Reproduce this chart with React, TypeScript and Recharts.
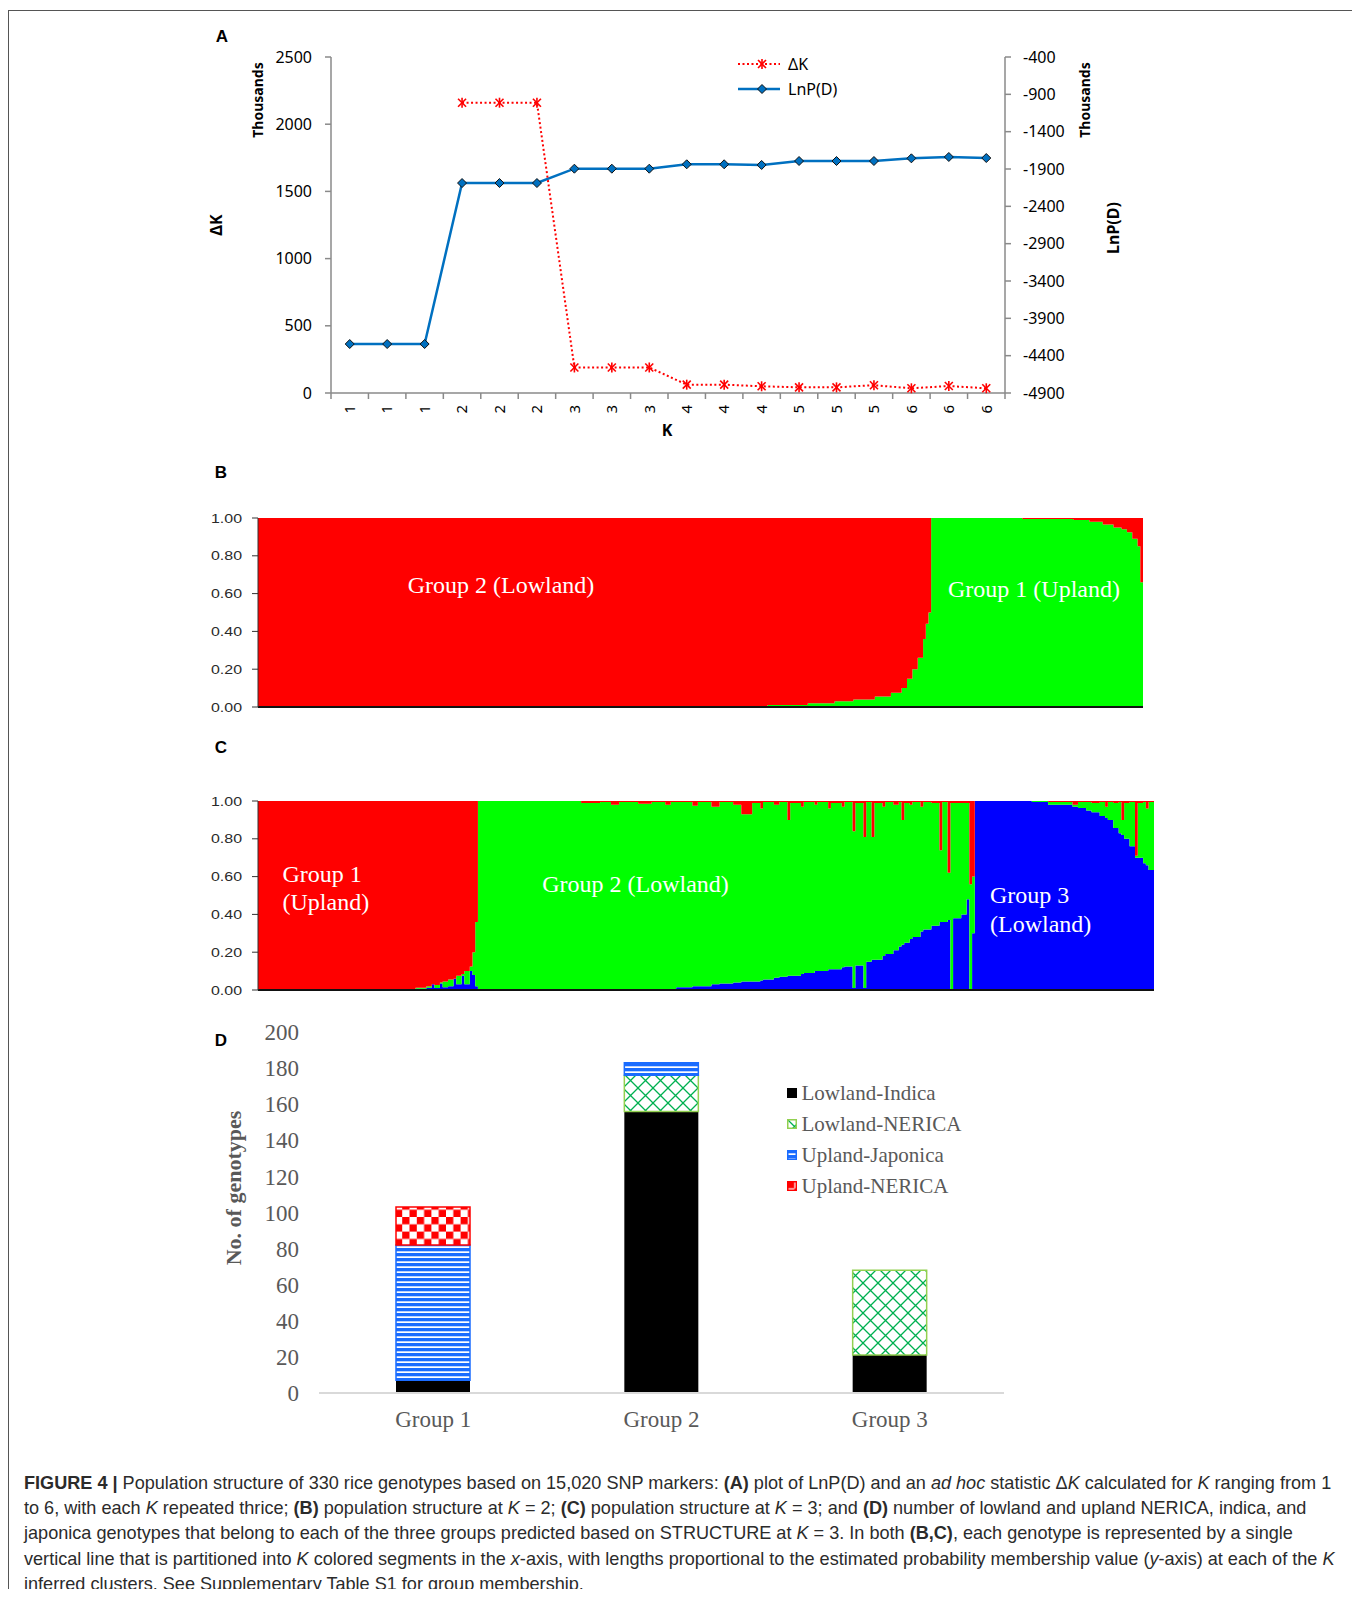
import React from 'react';
import { LineChart, Line, XAxis, YAxis, AreaChart, Area, BarChart, Bar } from 'recharts';

// (A) Evanno plot, K = 1..6, each K run three times
const kLabels = ['1', '1', '1', '2', '2', '2', '3', '3', '3', '4', '4', '4', '5', '5', '5', '6', '6', '6'];
const deltaK: (number | null)[] = [null, null, null, 2160, 2160, 2160, 190, 190, 190, 62, 62, 50, 42, 42, 58, 35, 52, 35];
const lnPD = [-4244, -4244, -4244, -2088, -2088, -2088, -1896, -1896, -1896, -1837, -1837, -1846, -1793, -1793, -1793, -1757, -1739, -1753];
const deltaKTicks = [0, 500, 1000, 1500, 2000, 2500];
const lnPDTicks = [-4900, -4400, -3900, -3400, -2900, -2400, -1900, -1400, -900, -400];

// (B) K = 2, 330 genotypes in plot order. Each breakpoint's value holds until the next one.
const bIdx = [0, 170, 190, 205, 215, 222, 230, 236, 240, 242, 244, 246, 248, 249, 250, 251, 285, 304, 310, 315, 319, 322, 324, 326, 328, 329, 330];
const bGreen = [0, 0.005, 0.01, 0.02, 0.03, 0.04, 0.055, 0.075, 0.1, 0.15, 0.2, 0.26, 0.36, 0.44, 0.5, 1, 0.995, 0.99, 0.98, 0.965, 0.95, 0.94, 0.925, 0.89, 0.85, 0.66, 0.66];

// (C) K = 3, same idea: blue and red shares, green is the rest
const cIdx = [
  0, 50, 58, 62, 64, 65, 67, 68, 70, 72, 73, 75, 76, 78, 79, 80,
  81, 119, 126, 130, 133, 140, 145, 150, 152, 154, 160, 162, 167, 170, 175, 178, 182, 185, 186, 190,
  192, 195, 196, 200, 201, 205, 206, 210, 211, 215, 216, 219, 220, 223, 224, 226, 227, 230, 231, 234,
  236, 237, 238, 240, 241, 244, 245, 248, 251, 252, 254, 255, 256, 259, 261, 262, 263,
  264, 285, 291, 300, 302, 305, 307, 310, 312, 313, 315, 317, 318, 319, 321, 323, 324, 326, 327, 328, 330,
];
const cBlue = [
  0, 0.003, 0.006, 0.012, 0.03, 0.01, 0.035, 0.015, 0.02, 0.06, 0.03, 0.075, 0.03, 0.1, 0.08, 0.02,
  0, 0, 0, 0, 0, 0, 0, 0, 0, 0.015, 0.02, 0.02, 0.03, 0.035, 0.04, 0.045, 0.045, 0.05, 0.055, 0.065,
  0.07, 0.075, 0.075, 0.085, 0.09, 0.1, 0.1, 0.11, 0.11, 0.12, 0.125, 0.01, 0.13, 0.01, 0.15, 0.16, 0.16, 0.18, 0.19, 0.21,
  0.23, 0.24, 0.25, 0.27, 0.28, 0.31, 0.32, 0.34, 0.36, 0.36, 0.37, 0, 0.38, 0.4, 0.48, 0, 0.3,
  1, 0.995, 0.98, 0.97, 0.963, 0.95, 0.94, 0.92, 0.91, 0.9, 0.857, 0.83, 0.82, 0.8, 0.76, 0.7, 0.7, 0.67, 0.66, 0.635, 0.635,
];
const cRed = [
  1, 0.995, 0.988, 0.98, 0.97, 0.974, 0.96, 0.955, 0.945, 0.94, 0.925, 0.915, 0.9, 0.875, 0.8, 0.64,
  0, 0.01, 0.005, 0.02, 0.005, 0.015, 0.005, 0.02, 0.005, 0.005, 0.025, 0.005, 0.03, 0.005, 0.02, 0.07, 0.01, 0.04, 0.005, 0.02,
  0.005, 0.1, 0.01, 0.03, 0.005, 0.02, 0.005, 0.04, 0.01, 0.03, 0.005, 0.16, 0.01, 0.19, 0.005, 0.19, 0.01, 0.03, 0.005, 0.02,
  0.005, 0.1, 0.01, 0.02, 0.005, 0.03, 0.005, 0.01, 0.26, 0.005, 0.38, 0.01, 0.01, 0.01, 0.01, 0.44, 0.4,
  0, 0, 0.005, 0.02, 0.005, 0.005, 0.01, 0.005, 0.03, 0.005, 0.01, 0.005, 0.1, 0.01, 0.005, 0.29, 0.01, 0.005, 0.04, 0.005, 0.005,
];
const qTicks = [0, 0.2, 0.4, 0.6, 0.8, 1];

// (D) number of genotypes per STRUCTURE group
const groups = ['Group 1', 'Group 2', 'Group 3'];
const lowlandIndica = [7, 156, 21];
const lowlandNerica = [0, 20, 47];
const uplandJaponica = [75, 7, 0];
const uplandNerica = [21, 0, 0];
const countTicks = [0, 20, 40, 60, 80, 100, 120, 140, 160, 180, 200];

const dataA = kLabels.map((k, i) => ({ pos: i + 0.5, k, dk: deltaK[i], lnp: lnPD[i] }));
const kBounds = [...kLabels.map((_, i) => i), kLabels.length];
const kCentres = kLabels.map((_, i) => i + 0.5);
const dataB = bIdx.map((x, i) => ({ x, green: bGreen[i], red: +(1 - bGreen[i]).toFixed(3) }));
const dataC = cIdx.map((x, i) => ({ x, blue: cBlue[i], green: +(1 - cBlue[i] - cRed[i]).toFixed(3), red: cRed[i] }));
const dataD = groups.map((group, i) => ({
  group, li: lowlandIndica[i], ln: lowlandNerica[i], uj: uplandJaponica[i], un: uplandNerica[i],
}));

const sans = '"Noto Sans", "DejaVu Sans", sans-serif';
const serif = '"Liberation Serif", "Times New Roman", serif';
const arial = '"Liberation Sans", Arial, sans-serif';
const axisGrey = '#8a8a8a';
const lnpBlue = '#0070c0';
const dkRed = '#ff0000';
const dGrey = '#595959';

const Star = ({ cx, cy }: { cx: number; cy: number }) => (
  <g stroke={dkRed} strokeWidth={1.6}>
    <line x1={cx - 4} y1={cy - 4} x2={cx + 4} y2={cy + 4} />
    <line x1={cx - 4} y1={cy + 4} x2={cx + 4} y2={cy - 4} />
    <line x1={cx} y1={cy - 5} x2={cx} y2={cy + 5} />
  </g>
);

const Diamond = ({ cx, cy }: { cx: number; cy: number }) => (
  <polygon points={`${cx},${cy - 4.5} ${cx + 4.5},${cy} ${cx},${cy + 4.5} ${cx - 4.5},${cy}`} fill={lnpBlue} stroke="#111" strokeWidth={1} />
);

const KTick = (props: any) => {
  const { x, y, payload } = props;
  return (
    <text x={x} y={y} dy="0.35em" transform={`rotate(-90 ${x} ${y})`} textAnchor="end" fontFamily={sans} fontSize={15} fill="#000">
      {kLabels[Math.floor(payload.value)]}
    </text>
  );
};

const QTick = (props: any) => {
  const { x, y, payload } = props;
  return (
    <text x={x} y={y} dy={4.5} textAnchor="end" fontFamily={arial} fontSize={12} fill="#2a2a2a" textLength={31} lengthAdjust="spacingAndGlyphs">
      {Number(payload.value).toFixed(2)}
    </text>
  );
};

function PanelA() {
  return (
    <LineChart width={1344} height={433} data={dataA} margin={{ top: 49, right: 277, bottom: 10, left: 253 }}>
      {/* category labels, one per run (stacked below the tick axis) */}
      <XAxis xAxisId="b" type="number" dataKey="pos" domain={[0, 18]} ticks={kCentres} interval={0}
        tick={<KTick />} tickLine={false} axisLine={false} tickSize={0} tickMargin={4} height={30} />
      {/* boundary tick marks between runs */}
      <XAxis xAxisId="a" type="number" dataKey="pos" domain={[0, 18]} ticks={kBounds} interval={0}
        tickFormatter={() => ''} tickSize={6} height={8}
        axisLine={{ stroke: axisGrey, strokeWidth: 1.5 }} tickLine={{ stroke: axisGrey, strokeWidth: 1.5 }} />
      <YAxis yAxisId="dk" domain={[0, 2500]} ticks={deltaKTicks} interval={0} width={70} tickSize={6} tickMargin={13}
        axisLine={{ stroke: axisGrey, strokeWidth: 1.5 }} tickLine={{ stroke: axisGrey, strokeWidth: 1.5 }}
        tick={{ fontFamily: sans, fontSize: 16, fill: '#000' }} />
      <YAxis yAxisId="lnp" orientation="right" domain={[-4900, -400]} ticks={lnPDTicks} interval={0} width={70}
        tickSize={6} tickMargin={12} allowDataOverflow
        axisLine={{ stroke: axisGrey, strokeWidth: 1.5 }} tickLine={{ stroke: axisGrey, strokeWidth: 1.5 }}
        tick={{ fontFamily: sans, fontSize: 16, fill: '#000', textAnchor: 'start' }} />
      <Line xAxisId="a" yAxisId="lnp" dataKey="lnp" stroke={lnpBlue} strokeWidth={2.5} isAnimationActive={false}
        dot={(p: any) => <Diamond key={`d${p.index}`} cx={p.cx} cy={p.cy} />} activeDot={false} />
      <Line xAxisId="a" yAxisId="dk" dataKey="dk" stroke={dkRed} strokeWidth={2} strokeDasharray="2 2.5" isAnimationActive={false}
        dot={(p: any) => (p.value == null || p.cy == null ? <g key={`s${p.index}`} /> : <Star key={`s${p.index}`} cx={p.cx} cy={p.cy} />)}
        activeDot={false} />
    </LineChart>
  );
}

function PanelB() {
  return (
    <AreaChart width={1344} height={232} data={dataB} margin={{ top: 30, right: 209, bottom: 12, left: 200 }}>
      <XAxis type="number" dataKey="x" domain={[0, 330]} allowDataOverflow tick={false} tickLine={false} height={1}
        axisLine={{ stroke: '#111', strokeWidth: 2 }} />
      <YAxis domain={[0, 1]} ticks={qTicks} interval={0} allowDataOverflow width={50} tickSize={6} tickMargin={10}
        axisLine={{ stroke: '#333' }} tickLine={{ stroke: '#333' }} tick={(p: any) => <QTick {...p} />} />
      <Area type="stepAfter" dataKey="green" stackId="q" stroke="none" fill="#00ff00" fillOpacity={1} isAnimationActive={false} activeDot={false} />
      <Area type="stepAfter" dataKey="red" stackId="q" stroke="none" fill="#ff0000" fillOpacity={1} isAnimationActive={false} activeDot={false} />
    </AreaChart>
  );
}

function PanelC() {
  return (
    <AreaChart width={1344} height={232} data={dataC} margin={{ top: 30, right: 198, bottom: 12, left: 200 }}>
      <XAxis type="number" dataKey="x" domain={[0, 330]} allowDataOverflow tick={false} tickLine={false} height={1}
        axisLine={{ stroke: '#111', strokeWidth: 2 }} />
      <YAxis domain={[0, 1]} ticks={qTicks} interval={0} allowDataOverflow width={50} tickSize={6} tickMargin={10}
        axisLine={{ stroke: '#333' }} tickLine={{ stroke: '#333' }} tick={(p: any) => <QTick {...p} />} />
      <Area type="stepAfter" dataKey="blue" stackId="q" stroke="none" fill="#0000ff" fillOpacity={1} isAnimationActive={false} activeDot={false} />
      <Area type="stepAfter" dataKey="green" stackId="q" stroke="none" fill="#00ff00" fillOpacity={1} isAnimationActive={false} activeDot={false} />
      <Area type="stepAfter" dataKey="red" stackId="q" stroke="none" fill="#ff0000" fillOpacity={1} isAnimationActive={false} activeDot={false} />
    </AreaChart>
  );
}

const legendD = [
  { name: 'Lowland-Indica', fill: '#000', stroke: '#000' },
  { name: 'Lowland-NERICA', fill: 'url(#patLN)', stroke: '#92d050' },
  { name: 'Upland-Japonica', fill: 'url(#patUJ)', stroke: '#1a6cff' },
  { name: 'Upland-NERICA', fill: 'url(#patUN)', stroke: '#ff0000' },
];

function PanelD() {
  return (
    <BarChart width={1344} height={440} data={dataD} margin={{ top: 34, right: 348, bottom: 5, left: 231 }}>
      <defs>
        <pattern id="patLN" patternUnits="userSpaceOnUse" width={15} height={15}>
          <rect width={15} height={15} fill="#fff" />
          <path d="M0,0 L15,15 M15,0 L0,15" stroke="#00b050" strokeWidth={1.3} />
        </pattern>
        <pattern id="patUJ" patternUnits="userSpaceOnUse" width={5} height={5}>
          <rect width={5} height={5} fill="#fff" />
          <rect width={5} height={3.3} fill="#1a6cff" />
        </pattern>
        <pattern id="patUN" patternUnits="userSpaceOnUse" width={14.6} height={14.6}>
          <rect width={14.6} height={14.6} fill="#fff" />
          <rect width={7.3} height={7.3} fill="#ff0000" />
          <rect x={7.3} y={7.3} width={7.3} height={7.3} fill="#ff0000" />
        </pattern>
      </defs>
      <XAxis dataKey="group" axisLine={{ stroke: '#d9d9d9', strokeWidth: 2 }} tickLine={false} tickSize={0} tickMargin={18}
        height={40} tick={{ fontFamily: serif, fontSize: 23, fill: dGrey }} />
      <YAxis domain={[0, 200]} ticks={countTicks} interval={0} axisLine={false} tickLine={false} tickSize={0} tickMargin={20}
        width={80} tick={{ fontFamily: serif, fontSize: 23, fill: dGrey }} />
      <Bar dataKey="li" stackId="g" fill="#000" barSize={74} isAnimationActive={false} />
      <Bar dataKey="ln" stackId="g" fill="url(#patLN)" stroke="#92d050" strokeWidth={1.5} barSize={74} isAnimationActive={false} />
      <Bar dataKey="uj" stackId="g" fill="url(#patUJ)" stroke="#1a6cff" strokeWidth={1.5} barSize={74} isAnimationActive={false} />
      <Bar dataKey="un" stackId="g" fill="url(#patUN)" stroke="#ff0000" strokeWidth={1.5} barSize={74} isAnimationActive={false} />
    </BarChart>
  );
}

function Overlay() {
  const white = { fontFamily: serif, fontSize: 24, fill: '#fff' };
  const bold = { fontFamily: sans, fontWeight: 700, fill: '#000' };
  const panel = { fontFamily: arial, fontWeight: 700, fontSize: 17, fill: '#000', textAnchor: 'middle' as const };
  return (
    <svg width={1350} height={1460} style={{ position: 'absolute', left: 0, top: 0, pointerEvents: 'none' }}>
      <text x={214} y={34} {...panel}>A</text>
      <text x={213} y={470} {...panel}>B</text>
      <text x={213} y={745} {...panel}>C</text>
      <text x={213} y={1038} {...panel}>D</text>

      <text x={250} y={92} dy="0.35em" transform="rotate(-90 250 92)" textAnchor="middle" fontSize={14} {...bold}>Thousands</text>
      <text x={1077} y={92} dy="0.35em" transform="rotate(-90 1077 92)" textAnchor="middle" fontSize={14} {...bold}>Thousands</text>
      <text x={208} y={217} dy="0.35em" transform="rotate(-90 208 217)" textAnchor="middle" fontSize={16} {...bold}>ΔK</text>
      <text x={1105} y={220} dy="0.35em" transform="rotate(-90 1105 220)" textAnchor="middle" fontSize={16} {...bold}>LnP(D)</text>
      <text x={659} y={422} dy="0.35em" textAnchor="middle" fontSize={16} {...bold}>K</text>

      <text x={493} y={585} textAnchor="middle" {...white}>Group 2 (Lowland)</text>
      <text x={1026} y={589} textAnchor="middle" {...white}>Group 1 (Upland)</text>

      <text x={274.5} y={873.5} {...white}>Group 1</text>
      <text x={274.5} y={902} {...white}>(Upland)</text>
      <text x={627.5} y={883.5} textAnchor="middle" {...white}>Group 2 (Lowland)</text>
      <text x={982} y={895} {...white}>Group 3</text>
      <text x={982} y={923.5} {...white}>(Lowland)</text>

      <text x={225} y={1180} dy="0.35em" transform="rotate(-90 225 1180)" textAnchor="middle"
        fontFamily={serif} fontWeight={700} fontSize={22} fill={dGrey}>No. of genotypes</text>
    </svg>
  );
}

function LegendA() {
  return (
    <div style={{ position: 'absolute', left: 730, top: 43.5, fontFamily: sans, fontSize: 16, color: '#000' }}>
      <div style={{ display: 'flex', alignItems: 'center', height: 25 }}>
        <svg width={42} height={14}>
          <line x1={0} y1={7} x2={42} y2={7} stroke={dkRed} strokeWidth={2} strokeDasharray="2 2.5" />
          <Star cx={24} cy={7} />
        </svg>
        <span style={{ marginLeft: 8 }}>ΔK</span>
      </div>
      <div style={{ display: 'flex', alignItems: 'center', height: 25 }}>
        <svg width={42} height={14}>
          <line x1={0} y1={7} x2={42} y2={7} stroke={lnpBlue} strokeWidth={2.5} />
          <Diamond cx={24} cy={7} />
        </svg>
        <span style={{ marginLeft: 8 }}>LnP(D)</span>
      </div>
    </div>
  );
}

function LegendD() {
  return (
    <div style={{ position: 'absolute', left: 778.5, top: 1069.5, fontFamily: serif, fontSize: 21, color: dGrey }}>
      {legendD.map((s) => (
        <div key={s.name} style={{ display: 'flex', alignItems: 'center', height: 31 }}>
          <svg width={10} height={10} style={{ flex: 'none' }}>
            <rect x={0.75} y={0.75} width={8.5} height={8.5} fill={s.fill} stroke={s.stroke} strokeWidth={1.5} />
          </svg>
          <span style={{ marginLeft: 5 }}>{s.name}</span>
        </div>
      ))}
    </div>
  );
}

export default function App() {
  return (
    <div style={{ position: 'relative', width: 1344, height: 1581 }}>
      <div style={{ position: 'absolute', left: 0, top: 2, width: 1347, height: 1587, border: '1.5px solid #555', borderBottom: 'none', boxSizing: 'border-box' }} />
      <div style={{ position: 'absolute', left: 0, top: 0 }}><PanelA /></div>
      <div style={{ position: 'absolute', left: 0, top: 480 }}><PanelB /></div>
      <div style={{ position: 'absolute', left: 0, top: 763 }}><PanelC /></div>
      <div style={{ position: 'absolute', left: 0, top: 990 }}><PanelD /></div>
      <LegendA />
      <LegendD />
      <Overlay />
      <div style={{ position: 'absolute', left: 16, top: 1463, fontFamily: arial, fontSize: 18.1, lineHeight: '25.2px', color: '#2b2b2b', whiteSpace: 'nowrap' }}>
        <div><b>FIGURE 4 |</b> Population structure of 330 rice genotypes based on 15,020 SNP markers: <b>(A)</b> plot of LnP(D) and an <i>ad hoc</i> statistic Δ<i>K</i> calculated for <i>K</i> ranging from 1</div>
        <div>to 6, with each <i>K</i> repeated thrice; <b>(B)</b> population structure at <i>K</i> = 2; <b>(C)</b> population structure at <i>K</i> = 3; and <b>(D)</b> number of lowland and upland NERICA, indica, and</div>
        <div>japonica genotypes that belong to each of the three groups predicted based on STRUCTURE at <i>K</i> = 3. In both <b>(B,C)</b>, each genotype is represented by a single</div>
        <div>vertical line that is partitioned into <i>K</i> colored segments in the <i>x</i>-axis, with lengths proportional to the estimated probability membership value (<i>y</i>-axis) at each of the <i>K</i></div>
        <div>inferred clusters. See Supplementary Table S1 for group membership.</div>
      </div>
    </div>
  );
}
